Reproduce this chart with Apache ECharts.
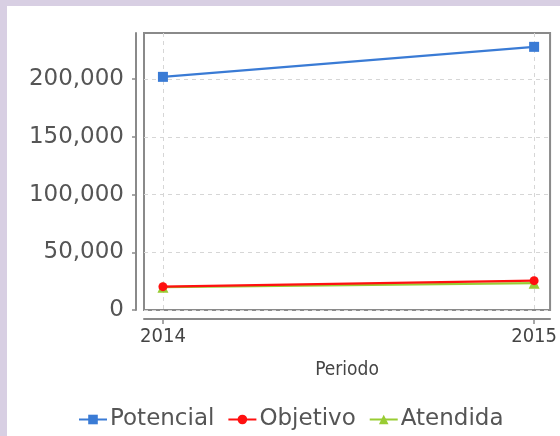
<!DOCTYPE html>
<html lang="es">
<head>
    <meta charset="UTF-8">
    <title>Periodo</title>
    <script src="https://cdn.jsdelivr.net/npm/echarts@6/dist/echarts.min.js"></script>
    <style>
        body {
            margin: 0;
            padding: 0;
            background: #d8cfe3;
            overflow: hidden;
        }
        #chart {
            position: absolute;
            left: 7px;
            top: 6px;
            width: 553px;
            height: 430px;
            background: #fff;
        }
    </style>
</head>
<body>
<div id="chart"></div>
<script>
    // datos
    const periodos = [2014, 2015]
    const potencial = [202000, 228000]
    const objetivo = [20200, 25400]
    const atendida = [19800, 23200]
    const yTicks = [0, 50000, 100000, 150000, 200000]

    const gris = '#8a8a8a'

    function serie(nombre, valores, color, simbolo, tam) {
        return {
            name: nombre,
            type: 'line',
            data: periodos.map((p, i) => [p, valores[i]]),
            symbol: simbolo,
            symbolSize: tam,
            itemStyle: { color: color },
            lineStyle: { color: color, width: 2.2 }
        }
    }

    const chart = echarts.init(document.getElementById('chart'))
    chart.setOption({
        animation: false,
        textStyle: { fontFamily: 'DejaVu Sans' },
        grid: {
            left: 137, right: 7, top: 27, bottom: 126,
            show: true,
            borderColor: gris,
            borderWidth: 2
        },
        xAxis: {
            type: 'value',
            min: 2013.949,
            max: 2015.043,
            offset: 9,
            name: 'Periodo',
            nameLocation: 'middle',
            nameGap: 42,
            nameTextStyle: { fontFamily: 'DejaVu Sans Condensed', fontSize: 19, color: '#444' },
            axisLine: { show: true, onZero: false, lineStyle: { color: gris, width: 2 } },
            axisTick: { show: true, length: 5, customValues: periodos, lineStyle: { color: gris, width: 1.5 } },
            axisLabel: {
                customValues: periodos,
                fontFamily: 'DejaVu Sans Condensed',
                fontSize: 20,
                color: '#444',
                margin: 8,
                formatter: v => String(v)
            },
            splitLine: { show: true, lineStyle: { color: '#d6d6d6', type: [4, 4], width: 1 } }
        },
        yAxis: {
            type: 'value',
            min: 0,
            max: 240000,
            interval: 50000,
            offset: 8,
            axisLine: { show: true, lineStyle: { color: gris, width: 2 } },
            axisTick: { show: true, length: 4, customValues: yTicks, lineStyle: { color: gris, width: 1.5 } },
            axisLabel: {
                customValues: yTicks,
                fontSize: 23,
                color: '#555',
                margin: 12,
                formatter: v => v.toLocaleString('en-US')
            },
            splitLine: { show: true, lineStyle: { color: '#d6d6d6', type: [4, 4], width: 1 } }
        },
        legend: {
            left: 66,
            top: 397,
            itemWidth: 28,
            itemHeight: 12,
            itemGap: 13,
            textStyle: { fontSize: 23, color: '#555', padding: [0, 0, 0, -2] },
            data: ['Potencial', 'Objetivo', 'Atendida']
        },
        series: [
            serie('Potencial', potencial, '#3a7bd5', 'rect', 10),
            serie('Atendida', atendida, '#99cc33', 'triangle', 11),
            serie('Objetivo', objetivo, '#ff1010', 'circle', 9)
        ]
    })

    window.onresize = function () {
        chart.resize()
    }
</script>
</body>
</html>
